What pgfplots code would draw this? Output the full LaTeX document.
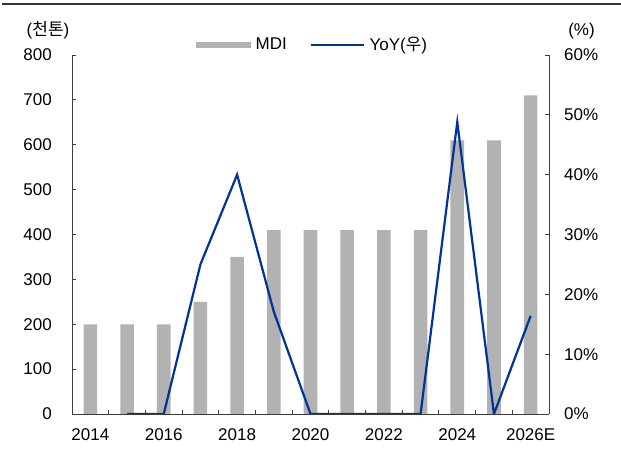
\documentclass[border=0pt]{standalone}
\usepackage{pgfplots}
\pgfplotsset{compat=1.18}
\usepackage{fontspec}
\setmainfont{Liberation Sans}
\newfontfamily\kr{Noto Sans CJK KR}
\definecolor{bargray}{RGB}{178,178,178}
\definecolor{lineblue}{RGB}{0,51,153}
\definecolor{axisgray}{RGB}{60,60,60}
\begin{document}
\fontsize{17bp}{20bp}\selectfont
\begin{tikzpicture}
\useasboundingbox (0,0) rectangle (621bp,457bp);
\begin{axis}[
  at={(72bp,43bp)}, anchor=south west,
  scale only axis, width=477bp, height=359bp,
  xmin=-0.5, xmax=12.5, ymin=0, ymax=800,
  axis x line*=bottom, axis y line*=left,
  axis line style={axisgray, line width=0.9bp, -},
  every tick/.style={axisgray, line width=0.9bp},
  tick align=inside, major tick length=4bp,
  xtick={0.5,1.5,...,11.5}, xticklabels={},
  extra x ticks={0,2,4,6,8,10,12},
  extra x tick labels={2014,2016,2018,2020,2022,2024,2026E},
  extra x tick style={major tick length=0pt},
  xticklabel style={anchor=north, inner sep=0pt, yshift=-14bp},
  ytick={0,100,...,800},
  yticklabels={0,100,200,300,400,500,600,700,800},
  yticklabel style={anchor=east, inner sep=0pt, xshift=-20bp},
  ]
\addplot[ybar, bar width=0.37, fill=bargray, draw=none] coordinates {
  (0,200) (1,200) (2,200) (3,250) (4,350) (5,410) (6,410)
  (7,410) (8,410) (9,410) (10,610) (11,610) (12,710)};
\end{axis}
\begin{axis}[
  at={(72bp,43bp)}, anchor=south west,
  scale only axis, width=477bp, height=359bp,
  xmin=-0.5, xmax=12.5, ymin=0, ymax=60,
  axis x line=none, axis y line*=right,
  axis line style={axisgray, line width=0.9bp, -},
  every tick/.style={axisgray, line width=0.9bp},
  tick align=inside, major tick length=4bp,
  ytick={0,10,...,60},
  yticklabels={0\%,10\%,20\%,30\%,40\%,50\%,60\%},
  yticklabel style={anchor=west, inner sep=0pt, xshift=15bp},
  legend columns=2,
  legend style={at={(0.26,1.028)}, anchor=west, draw=none, fill=none,
    inner sep=0pt, nodes={inner sep=0pt},
    /tikz/every odd column/.append style={column sep=5bp},
    /tikz/every even column/.append style={column sep=23bp}},
  ]
\addlegendimage{legend image code/.code={\fill[bargray] (0bp,-2.5bp) rectangle (54bp,2.5bp);}}
\addlegendentry{MDI}
\addlegendimage{legend image code/.code={\draw[lineblue, line width=1.8bp] (0bp,0bp) -- (53bp,0bp);}}
\addlegendentry{YoY({\kr 우})}
\addplot[lineblue, line width=2.2bp, mark=none, forget plot] coordinates {
  (1,0) (2,0) (3,25) (4,40) (5,17.1) (6,0) (7,0) (8,0) (9,0)
  (10,48.8) (11,0) (12,16.4)};
\end{axis}
\node at (48bp,427bp) {({\kr 천톤})};
\node at (581.5bp,426bp) {(\%)};
\draw[line width=2bp, black!80] (2bp,453.3bp) -- (621bp,453.3bp);
\end{tikzpicture}
\end{document}
